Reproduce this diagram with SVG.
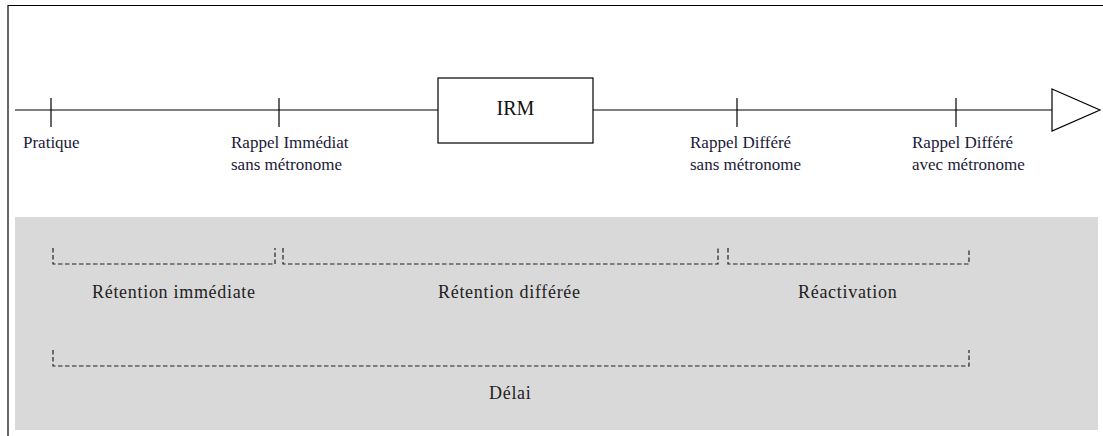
<svg xmlns="http://www.w3.org/2000/svg" width="1103" height="436" viewBox="0 0 1103 436">
<style>
.ln{stroke:#000;stroke-width:1.2;fill:none}
.dash{stroke:#222;stroke-width:1.2;fill:none;stroke-dasharray:4.5 2.5}
.lab{font-family:"Liberation Serif","Times New Roman",serif;font-size:17px;fill:#1a1a3a}
.big{font-family:"Liberation Serif","Times New Roman",serif;font-size:20px;fill:#111}
.low{font-family:"Liberation Serif","Times New Roman",serif;font-size:18px;fill:#222;letter-spacing:0.7px}
</style>
<rect width="1103" height="436" fill="#fff"/>
<g id="frame">
<line class="ln" x1="8" y1="5.5" x2="1103" y2="5.5"/>
<line class="ln" x1="8" y1="5" x2="8" y2="436"/>
</g>
<rect id="panel" x="15" y="217" width="1083" height="213" fill="#d9d9d9"/>
<g id="connectors">
<line class="ln" x1="15" y1="110" x2="438" y2="110"/>
<line class="ln" x1="593" y1="110" x2="1052" y2="110"/>
<polygon class="ln" points="1052,89 1100,110 1052,131" fill="#fff"/>
</g>
<g id="pratique">
<line class="ln" x1="51" y1="98" x2="51" y2="127"/>
<text class="lab" x="23" y="148">Pratique</text>
</g>
<g id="rappel-immediat">
<line class="ln" x1="279" y1="98" x2="279" y2="127"/>
<text class="lab" x="231" y="148">Rappel Immédiat</text>
<text class="lab" x="231" y="170">sans métronome</text>
</g>
<g id="irm">
<rect class="ln" x="438" y="78" width="155" height="65" fill="#fff"/>
<text class="big" x="515.5" y="115" text-anchor="middle">IRM</text>
</g>
<g id="rappel-differe-sans">
<line class="ln" x1="737" y1="98" x2="737" y2="127"/>
<text class="lab" x="690" y="148">Rappel Différé</text>
<text class="lab" x="690" y="170">sans métronome</text>
</g>
<g id="rappel-differe-avec">
<line class="ln" x1="956" y1="98" x2="956" y2="127"/>
<text class="lab" x="912" y="148">Rappel Différé</text>
<text class="lab" x="912" y="170">avec métronome</text>
</g>
<g id="retention-immediate">
<path class="dash" d="M53,248 V264 H275 V248"/>
<text class="low" x="92" y="298">Rétention immédiate</text>
</g>
<g id="retention-differee">
<path class="dash" d="M283,248 V264 H718 V248"/>
<text class="low" x="438" y="298">Rétention différée</text>
</g>
<g id="reactivation">
<path class="dash" d="M728,248 V264 H969 V248"/>
<text class="low" x="798" y="298">Réactivation</text>
</g>
<g id="delai">
<path class="dash" d="M53,350 V366 H969 V350"/>
<text class="low" x="489" y="399">Délai</text>
</g>
</svg>
